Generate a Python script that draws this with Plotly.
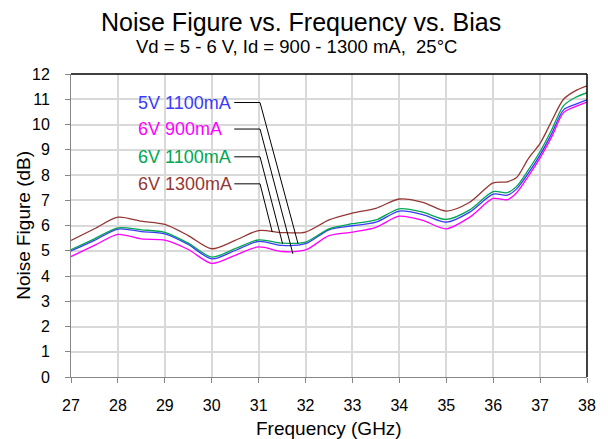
import plotly.graph_objects as go

freq = [27, 27.5, 28, 28.5, 29, 29.5, 30, 30.5, 31, 31.5, 32, 32.5, 33, 33.5, 34, 34.5,
        35, 35.5, 36, 36.3, 36.5, 36.75, 37, 37.25, 37.5, 37.75, 38]

nf_5v_1100 = [4.99, 5.41, 5.86, 5.76, 5.67, 5.25, 4.68, 5.01, 5.37, 5.21, 5.28, 5.83, 5.99, 6.13, 6.57, 6.43,
              6.13, 6.53, 7.24, 7.20, 7.45, 8.07, 8.80, 9.65, 10.58, 10.80, 10.98]
nf_6v_900 = [4.77, 5.21, 5.65, 5.47, 5.42, 5.05, 4.50, 4.82, 5.15, 4.97, 5.03, 5.60, 5.74, 5.93, 6.37, 6.20,
             5.87, 6.33, 7.07, 7.02, 7.30, 7.95, 8.68, 9.52, 10.47, 10.71, 10.89]
nf_6v_1100 = [5.04, 5.47, 5.91, 5.83, 5.73, 5.30, 4.75, 5.08, 5.43, 5.30, 5.34, 5.87, 6.07, 6.22, 6.66, 6.53,
              6.24, 6.62, 7.34, 7.30, 7.55, 8.20, 8.93, 9.80, 10.75, 11.07, 11.26]
nf_6v_1300 = [5.41, 5.87, 6.33, 6.17, 6.04, 5.60, 5.08, 5.41, 5.80, 5.72, 5.74, 6.22, 6.49, 6.68, 7.05, 6.92,
              6.57, 6.92, 7.69, 7.73, 7.90, 8.65, 9.25, 10.15, 11.00, 11.33, 11.53]

series_names = ["5V 1100mA", "6V 900mA", "6V 1100mA", "6V 1300mA"]
series_values = [nf_5v_1100, nf_6v_900, nf_6v_1100, nf_6v_1300]
series_colors = ["#3a3aff", "#ff00ff", "#00a651", "#953735"]

# callout labels (data coords)
label_x = 28.39
label_y = [10.87, 9.82, 8.72, 7.65]
leader_start_x = 30.48
leader_elbow_x = 31.03
leader_end_x = [31.84, 31.73, 31.51, 31.29]
leader_end_y = [5.28, 4.88, 5.28, 5.74]

x_ticks = list(range(27, 39))
y_ticks = list(range(0, 13))

FONT = "Liberation Sans, Arial, sans-serif"

fig = go.Figure()
for name, vals, col in zip(series_names, series_values, series_colors):
    fig.add_trace(go.Scatter(x=freq, y=vals, mode="lines", name=name,
                             line=dict(color=col, width=1.3, shape="spline", smoothing=0.8),
                             showlegend=False))

annotations = []
for name, ly, ex, ey, col in zip(series_names, label_y, leader_end_x, leader_end_y, series_colors):
    fig.add_trace(go.Scatter(x=[leader_start_x, leader_elbow_x, ex], y=[ly, ly, ey], mode="lines",
                             line=dict(color="black", width=1), showlegend=False, hoverinfo="skip"))
    annotations.append(dict(x=label_x, y=ly, xref="x", yref="y", text=name, showarrow=False,
                            xanchor="left", yanchor="middle",
                            font=dict(family=FONT, size=18, color=col)))

PL, PR, PT, PB = 71, 12, 74, 62
W, H = 608, 439
ph = H - PT - PB
pw = W - PL - PR


def py(px):
    return (H - PB - px) / ph


def pxx(px):
    return (px - PL) / pw


annotations += [
    dict(x=pxx(305), y=py(22), xref="paper", yref="paper", text="Noise Figure vs. Frequency vs. Bias",
         showarrow=False, xanchor="center", yanchor="middle", font=dict(family=FONT, size=25, color="black")),
    dict(x=pxx(300), y=py(46), xref="paper", yref="paper", text="Vd = 5 - 6 V, Id = 900 - 1300 mA,  25°C",
         showarrow=False, xanchor="center", yanchor="middle", font=dict(family=FONT, size=18.5, color="black")),
    dict(x=pxx(334), y=py(428), xref="paper", yref="paper", text="Frequency (GHz)",
         showarrow=False, xanchor="center", yanchor="middle", font=dict(family=FONT, size=19, color="black")),
    dict(x=pxx(22), y=py(225), xref="paper", yref="paper", text="Noise Figure (dB)", textangle=-90,
         showarrow=False, xanchor="center", yanchor="middle", font=dict(family=FONT, size=19, color="black")),
]

fig.update_layout(
    width=W, height=H,
    margin=dict(l=PL, r=PR, t=PT, b=PB, pad=0),
    paper_bgcolor="white", plot_bgcolor="white",
    font=dict(family=FONT, size=16, color="black"),
    annotations=annotations,
    xaxis=dict(range=[27, 38], tickvals=x_ticks, ticktext=[str(v) for v in x_ticks],
               showgrid=True, gridcolor="#d9d9d9", gridwidth=1.5,
               showline=True, linecolor="#868686", linewidth=1,
               ticks="outside", ticklen=5, tickcolor="#868686",
               tickfont=dict(size=16), ticklabelstandoff=9, zeroline=False),
    yaxis=dict(range=[0, 12], tickvals=y_ticks, ticktext=[str(v) for v in y_ticks],
               showgrid=True, gridcolor="#d9d9d9", gridwidth=1.5,
               showline=True, linecolor="#868686", linewidth=1,
               ticks="outside", ticklen=5, tickcolor="#868686",
               tickfont=dict(size=16), ticklabelstandoff=12, zeroline=False),
    shapes=[
        dict(type="line", xref="paper", yref="paper", x0=0, x1=1, y0=1, y1=1, line=dict(color="black", width=1.5)),
        dict(type="line", xref="paper", yref="paper", x0=1, x1=1, y0=0, y1=1, line=dict(color="black", width=1.5)),
    ],
)

fig.write_html("out.html", config={"displayModeBar": False},
               post_script="document.body.style.margin='0';document.body.style.overflow='hidden';")
